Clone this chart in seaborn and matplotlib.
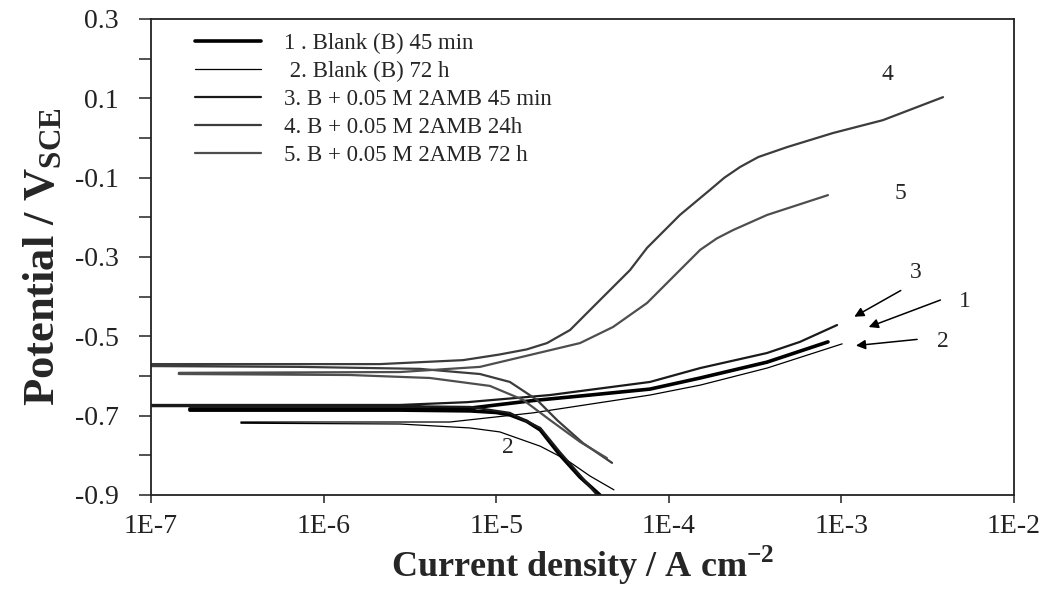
import numpy as np
import pandas as pd
import matplotlib
matplotlib.use('Agg')
import matplotlib.pyplot as plt
import seaborn as sns

# polarisation curves (i in A cm-2, E in V vs SCE)
# each curve: cathodic branch (Ecorr -> bottom) and anodic branch (Ecorr -> top)
c1_cath_i = [1.68e-7, 2.77e-6, 7.05e-6, 1.0e-5, 1.20e-5, 1.5e-5, 1.80e-5, 2.34e-5, 3.06e-5, 3.99e-5, 4.15e-5]
c1_cath_E = [-0.686, -0.686, -0.688, -0.692, -0.698, -0.714, -0.736, -0.799, -0.855, -0.900, -0.915]
c1_anod_i = [1.68e-7, 4.0e-6, 7.05e-6, 1.63e-5, 3.5e-5, 7.78e-5, 1.52e-4, 3.71e-4, 8.36e-4]
c1_anod_E = [-0.683, -0.683, -0.681, -0.662, -0.648, -0.633, -0.605, -0.565, -0.514]

c2_cath_i = [3.32e-7, 2.77e-6, 7.05e-6, 1.05e-5, 1.80e-5, 2.57e-5, 3.49e-5, 4.81e-5]
c2_cath_E = [-0.719, -0.721, -0.731, -0.741, -0.777, -0.812, -0.852, -0.887]
c2_anod_i = [3.32e-7, 5.39e-6, 1.63e-5, 7.78e-5, 1.52e-4, 3.71e-4, 1.01e-3]
c2_anod_E = [-0.716, -0.716, -0.693, -0.648, -0.623, -0.580, -0.519]

c3_cath_i = [1e-7, 2.77e-6, 7.05e-6, 1.20e-5, 1.80e-5, 2.34e-5, 3.06e-5, 3.84e-5, 4.0e-5]
c3_cath_E = [-0.676, -0.676, -0.678, -0.693, -0.731, -0.792, -0.850, -0.900, -0.915]
c3_anod_i = [1e-7, 2.77e-6, 6.78e-6, 2.05e-5, 7.78e-5, 1.52e-4, 3.71e-4, 5.75e-4, 9.44e-4]
c3_anod_E = [-0.673, -0.673, -0.666, -0.648, -0.615, -0.580, -0.542, -0.514, -0.4715]

c4_cath_i = [1e-7, 7.29e-7, 3.61e-6, 8.05e-6, 1.20e-5, 1.72e-5, 2.25e-5, 3.18e-5, 4.69e-5]
c4_cath_E = [-0.575, -0.577, -0.582, -0.595, -0.615, -0.660, -0.711, -0.769, -0.819]
c4_anod_i = [1e-7, 2.12e-6, 6.43e-6, 1.04e-5, 1.5e-5, 1.97e-5, 2.68e-5, 3.64e-5, 5.96e-5, 7.48e-5,
             1.16e-4, 1.73e-4, 2.1e-4, 2.59e-4, 3.3e-4, 4.84e-4, 8.93e-4, 1.74e-3, 3.88e-3]
c4_anod_E = [-0.570, -0.570, -0.560, -0.546, -0.533, -0.517, -0.484, -0.426, -0.333, -0.277,
             -0.194, -0.131, -0.100, -0.073, -0.048, -0.023, 0.0125, 0.045, 0.103]

c5_cath_i = [1.45e-7, 1.42e-6, 4.13e-6, 9.2e-6, 1.43e-5, 2.05e-5, 3.06e-5, 4.38e-5]
c5_cath_E = [-0.595, -0.5975, -0.605, -0.625, -0.660, -0.711, -0.766, -0.807]
c5_anod_i = [1.45e-7, 2.77e-6, 8.05e-6, 1.57e-5, 3.06e-5, 4.75e-5, 7.48e-5,
             1.16e-4, 1.52e-4, 1.9e-4, 2.36e-4, 3.71e-4, 8.36e-4]
c5_anod_E = [-0.592, -0.590, -0.577, -0.547, -0.517, -0.4765, -0.416,
             -0.333, -0.282, -0.253, -0.232, -0.194, -0.144]

labels = ['1 . Blank (B) 45 min', ' 2. Blank (B) 72 h', '3. B + 0.05 M 2AMB 45 min',
          '4. B + 0.05 M 2AMB 24h', '5. B + 0.05 M 2AMB 72 h']

x_ticks = [1e-7, 1e-6, 1e-5, 1e-4, 1e-3, 1e-2]
x_ticklabels = ['1E-7', '1E-6', '1E-5', '1E-4', '1E-3', '1E-2']
y_major = [0.3, 0.1, -0.1, -0.3, -0.5, -0.7, -0.9]
y_minor = [0.2, 0.0, -0.2, -0.4, -0.6, -0.8]

# curve numbers and arrows on the right
num_text = ['4', '5', '3', '1', '2', '2']
num_x = [1.86e-3, 2.19e-3, 2.70e-3, 5.20e-3, 3.88e-3, 1.17e-5]
num_y = [0.159, -0.139, -0.338, -0.411, -0.514, -0.779]
arrow_tail = [(2.28e-3, -0.381), (3.88e-3, -0.406), (2.85e-3, -0.507)]
arrow_head = [(1.15e-3, -0.454), (1.39e-3, -0.479), (1.17e-3, -0.524)]

sns.set_style('ticks')
plt.rcParams['font.family'] = ['Liberation Serif', 'DejaVu Serif']
plt.rcParams['mathtext.fontset'] = 'custom'
plt.rcParams['mathtext.rm'] = 'Liberation Serif'
plt.rcParams['mathtext.bf'] = 'Liberation Serif:bold'

fig = plt.figure(figsize=(10.57, 5.94), dpi=100)
ax = fig.add_axes([151 / 1057, 1 - 495 / 594, 863 / 1057, 476 / 594])
ax.set_xscale('log')

curves = [
    (c1_cath_i, c1_cath_E, c1_anod_i, c1_anod_E, 'black', 2.6),
    (c2_cath_i, c2_cath_E, c2_anod_i, c2_anod_E, 'black', 0.9),
    (c3_cath_i, c3_cath_E, c3_anod_i, c3_anod_E, '#1a1a1a', 1.6),
    (c4_cath_i, c4_cath_E, c4_anod_i, c4_anod_E, '#3c3c3c', 1.6),
    (c5_cath_i, c5_cath_E, c5_anod_i, c5_anod_E, '#4e4e4e', 1.6),
]
handles = []
for (ci, cE, ai, aE, col, lw), lab in zip(curves, labels):
    # cathodic branch reversed (bottom -> Ecorr), then anodic branch
    df = pd.DataFrame({'i': ci[::-1] + ai, 'E': cE[::-1] + aE})
    sns.lineplot(data=df, x='i', y='E', sort=False, estimator=None,
                 color=col, linewidth=lw, ax=ax)
    handles.append(plt.Line2D([], [], color=col, linewidth=lw, label=lab))

ax.set_xlim(1e-7, 1e-2)
ax.set_ylim(-0.9, 0.3)
ax.set_xticks(x_ticks)
ax.set_xticklabels(x_ticklabels)
ax.xaxis.set_minor_locator(matplotlib.ticker.NullLocator())
ax.set_yticks(y_major)
ax.set_yticklabels(['%.1f' % v for v in y_major])
ax.set_yticks(y_minor, minor=True)

for s in ax.spines.values():
    s.set_color('#222222')
    s.set_linewidth(1.3)
ax.tick_params(axis='x', which='major', direction='out', length=6, width=1.1,
               labelsize=20, pad=8, colors='#222222')
ax.tick_params(axis='y', which='both', direction='out', length=9, width=1.1,
               labelsize=20, pad=14, colors='#222222')

ax.set_xlabel(r'Current density / A cm$^{\mathbf{-2}}$', fontsize=26,
              fontweight='bold', labelpad=3)
ax.set_ylabel(r'Potential / V$_{\mathbf{SCE}}$', fontsize=32,
              fontweight='bold', labelpad=8)

for t, x, y in zip(num_text, num_x, num_y):
    ax.text(x, y, t, fontsize=17, ha='center', va='center')
for tail, head in zip(arrow_tail, arrow_head):
    ax.annotate('', xy=head, xytext=tail,
                arrowprops=dict(arrowstyle='-|>', color='black', lw=1.1,
                                mutation_scale=14))

ax.legend(handles=handles, loc='upper left', bbox_to_anchor=(0.035, 1.0),
          frameon=False, fontsize=16.5, handlelength=2.9, labelspacing=0.3,
          handletextpad=1.0, borderaxespad=0.2)

fig.savefig('out.png', dpi=100)
